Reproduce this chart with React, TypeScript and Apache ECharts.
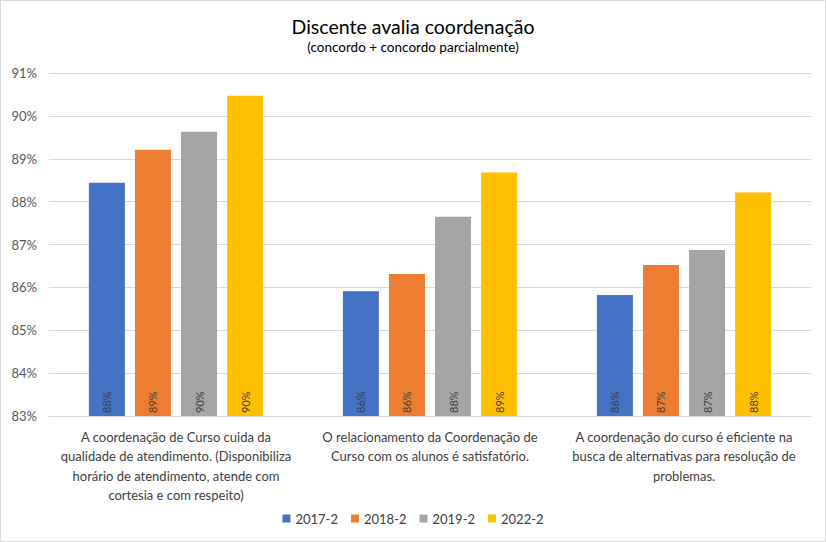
import React, { useEffect, useRef } from "react";
import * as echarts from "echarts";

const categories = [
  "A coordenação de Curso cuida da\nqualidade de atendimento. (Disponibiliza\nhorário de atendimento, atende com\ncortesia e com respeito)",
  "O relacionamento da Coordenação de\nCurso com os alunos é satisfatório.",
  "A coordenação do curso é eficiente na\nbusca de alternativas para resolução de\nproblemas.",
];
const seriesNames = ["2017-2", "2018-2", "2019-2", "2022-2"];
const colors = ["#4472C4", "#ED7D31", "#A5A5A5", "#FFC000"];
const s2017 = [88.44, 85.91, 85.82];
const s2018 = [89.21, 86.31, 86.52];
const s2019 = [89.63, 87.65, 86.87];
const s2022 = [90.47, 88.68, 88.21];
const seriesValues = [s2017, s2018, s2019, s2022];

const FONT = "Lato";

export default function App() {
  const ref = useRef<HTMLDivElement>(null);
  useEffect(() => {
    document.body.style.margin = "0";
    const chart = echarts.init(ref.current!, null, { renderer: "svg" });
    chart.setOption({
      animation: false,
      textStyle: { fontFamily: FONT },
      title: {
        text: "Discente avalia coordenação",
        subtext: "(concordo + concordo parcialmente)",
        left: "center",
        top: 10,
        itemGap: 4,
        textStyle: { fontFamily: FONT, fontSize: 19.5, fontWeight: "normal", color: "#000000" },
        subtextStyle: { fontFamily: FONT, fontSize: 13.5, color: "#000000" },
      },
      legend: {
        bottom: 11,
        left: "center",
        itemWidth: 8,
        itemHeight: 8,
        itemGap: 13,
        icon: "rect",
        textStyle: { fontFamily: FONT, fontSize: 13, color: "#404040" },
        data: seriesNames,
      },
      grid: { left: 48, right: 14, top: 72, bottom: 125, containLabel: false },
      xAxis: {
        type: "category",
        data: categories,
        axisLine: { lineStyle: { color: "#d9d9d9" } },
        axisTick: { show: false },
        axisLabel: {
          interval: 0,
          margin: 11,
          fontFamily: FONT,
          fontSize: 13,
          color: "#404040",
          lineHeight: 19.5,
          align: "center",
        },
      },
      yAxis: {
        type: "value",
        min: 83,
        max: 91,
        interval: 1,
        axisLine: { show: false },
        axisTick: { show: false },
        splitLine: { lineStyle: { color: "#d9d9d9" } },
        axisLabel: {
          formatter: (v: number) => v + "%",
          fontFamily: FONT,
          fontSize: 13,
          color: "#595959",
          margin: 12,
        },
      },
      series: seriesValues.map((vals, i) => ({
        name: seriesNames[i],
        type: "bar",
        data: vals,
        barWidth: 36,
        barGap: "28%",
        itemStyle: { color: colors[i] },
        label: {
          show: true,
          position: "insideBottom",
          rotate: 90,
          align: "left",
          verticalAlign: "middle",
          distance: 3,
          formatter: (p: any) => Math.round(p.value) + "%",
          fontFamily: FONT,
          fontSize: 11,
          color: "#404040",
        },
      })),
    });
    return () => chart.dispose();
  }, []);
  return (
    <div
      ref={ref}
      style={{
        position: "absolute",
        left: 0,
        top: 0,
        width: 826,
        height: 542,
        boxSizing: "border-box",
        border: "1px solid #d9d9d9",
        background: "#ffffff",
      }}
    />
  );
}
